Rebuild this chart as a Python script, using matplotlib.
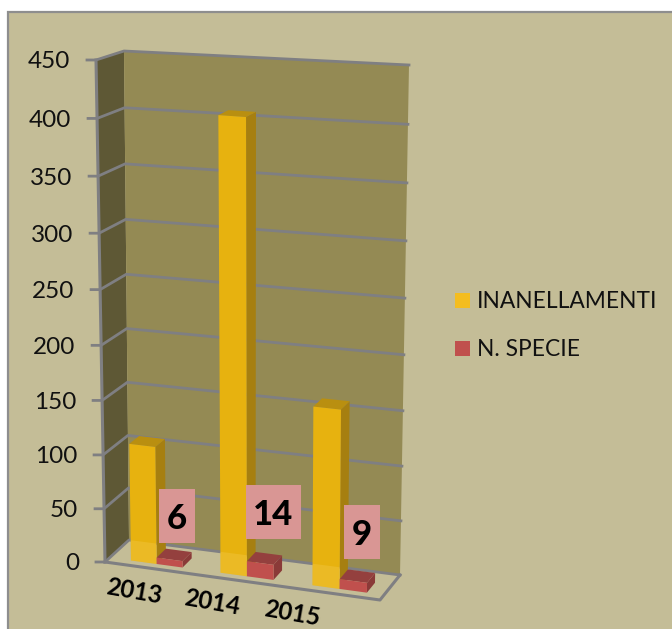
import numpy as np
import matplotlib
matplotlib.use("Agg")
import matplotlib.pyplot as plt
from matplotlib.patches import Polygon, Rectangle

years = ["2013", "2014", "2015"]
inanellamenti = [109, 408, 162]
n_specie = [6, 14, 9]
value_ticks = [0, 50, 100, 150, 200, 250, 300, 350, 400, 450]
legend_labels = ["INANELLAMENTI", "N. SPECIE"]
series_colors = {"INANELLAMENTI": ("#E7B20F", "#A67F10", "#B98F10"),
                 "N. SPECIE": ("#C0504D", "#8A3A38", "#94403E")}

W, H = 672, 629
FONT = "Lato"
BG = "#C4BD97"
GRID = "#7F7F82"

# plane corners in pixels: bottom-left, bottom-right, top-right, top-left
BACK = np.array([(129, 540), (400, 575), (409, 65), (124, 51)], float)
FRONT = np.array([(105, 562), (380, 600), (386, 79), (96, 60)], float)
UNIT = np.array([(0, 0), (1, 0), (1, 1), (0, 1)], float)


def homography(src, dst):
    A, b = [], []
    for (x, y), (X, Y) in zip(src, dst):
        A.append([x, y, 1, 0, 0, 0, -x * X, -y * X])
        A.append([0, 0, 0, x, y, 1, -x * Y, -y * Y])
        b += [X, Y]
    return np.append(np.linalg.solve(np.array(A), np.array(b)), 1).reshape(3, 3)


def proj(u, v, d):
    """category position u (0..3), value v (0..450), depth d (0 front, 1 back)"""
    m = homography(UNIT, FRONT + (BACK - FRONT) * d)
    p = m @ np.array([u / 3, v / 450, 1])
    return p[:2] / p[2]


fig = plt.figure(figsize=(W / 100, H / 100), dpi=100, facecolor="white")
ax = fig.add_axes([0, 0, 1, 1])
ax.set_xlim(0, W)
ax.set_ylim(H, 0)
ax.axis("off")

ax.add_patch(Rectangle((7.5, 11.5), W, H, fc=BG, ec="#8E8E8E", lw=1.6, zorder=0))


def poly(pts, color, z, alpha=None):
    p = Polygon(pts, closed=True, fc=color, ec="none", zorder=z, alpha=alpha)
    ax.add_patch(p)
    return p


vmax = value_ticks[-1]
# walls
poly([proj(0, 0, 0), proj(0, 0, 1), proj(0, vmax, 1), proj(0, vmax, 0)], "#5E5835", 1)
poly([proj(0, 0, 1), proj(3, 0, 1), proj(3, vmax, 1), proj(0, vmax, 1)], "#948A54", 1)

# axis and grid lines
for t in value_ticks:
    pts = np.array([proj(0, t, 0) + (-9, 0), proj(0, t, 0), proj(0, t, 1), proj(3, t, 1)])
    ax.plot(pts[:, 0], pts[:, 1], color=GRID, lw=2, zorder=2, solid_joinstyle="round")
    a = proj(0, t, 0)
    ax.text(a[0] - 26, a[1], str(t), ha="right", va="center_baseline", fontsize=17.5,
            family=FONT, color="#111111", zorder=8)
for pts in ([proj(0, 0, 0), proj(0, vmax, 0)],
            [proj(0, 0, 0), proj(3, 0, 0), proj(3, 0, 1)]):
    pts = np.array(pts)
    ax.plot(pts[:, 0], pts[:, 1], color=GRID, lw=2.2, zorder=2)


def box(u0, u1, d0, d1, v, colors, z):
    front, side, top = colors
    poly([proj(u1, 0, d0), proj(u1, 0, d1), proj(u1, v, d1), proj(u1, v, d0)], side, z)
    poly([proj(u0, v, d0), proj(u1, v, d0), proj(u1, v, d1), proj(u0, v, d1)], top, z)
    return poly([proj(u0, 0, d0), proj(u1, 0, d0), proj(u1, v, d0), proj(u0, v, d0)], front, z)


BAR = 0.29
D0, D1 = 0.2, 0.6
SHIFT = 0.03
for i in range(len(years)):
    c = i + 0.5 + SHIFT
    face = box(c - BAR, c, D0, D1, inanellamenti[i], series_colors["INANELLAMENTI"], 3)
    # the translucent floor lightens only the foot of each yellow bar
    foot = poly([proj(0, 0, 0), proj(3, 0, 0), proj(3, 0, 1), proj(0, 0, 1)], "#FFE08A", 4, alpha=0.18)
    foot.set_clip_path(face)

for i in range(len(years)):
    c = i + 0.5 + SHIFT
    box(c, c + BAR, D0, D1, n_specie[i], series_colors["N. SPECIE"], 5)

# data labels
label_boxes = [(158.5, 489, 36, 54), (245.5, 485, 55, 54), (344, 505, 35.5, 53.5)]
for val, (x, y, w, h) in zip(n_specie, label_boxes):
    ax.add_patch(Rectangle((x, y), w, h, fc="#D99694", ec="none", zorder=6))
    ax.text(x + w / 2, y + h / 2, str(val), ha="center", va="center_baseline", fontsize=25,
            fontweight=900, family=FONT, color="black", zorder=7)

# category labels
for i, yr in enumerate(years):
    p = proj(i + 0.5, 0, 0)
    ax.text(p[0] - 15 - 13 * i, p[1] + 23 - 1.5 * i, yr, ha="center", va="center", rotation=-10,
            rotation_mode="anchor", fontsize=17.5, fontweight="bold", family=FONT,
            color="black", zorder=7)

# legend
legend_swatches = ["#F4BD1F", series_colors["N. SPECIE"][0]]
for lab, col, y in zip(legend_labels, legend_swatches, (300, 348)):
    ax.add_patch(Rectangle((455, y - 7), 15, 15, fc=col, ec="none", zorder=7))
    ax.text(477, y, lab, ha="left", va="center_baseline", fontsize=16.4, family=FONT,
            color="#111111", zorder=7)

fig.savefig("out.png", dpi=100, facecolor="white")
